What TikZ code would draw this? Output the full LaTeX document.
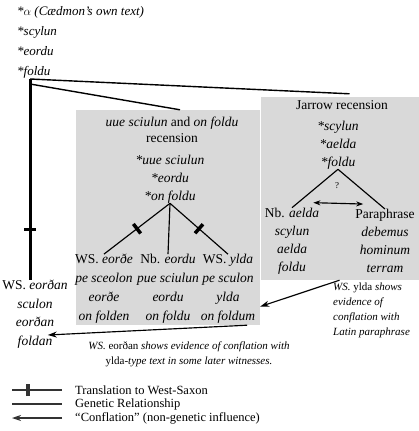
\documentclass[tikz,border=0pt]{standalone}
\usepackage{amssymb}
\usepackage{amsmath}
\usepackage{fontspec}
\setmainfont{Liberation Serif}
\usepackage{tikz}
\usetikzlibrary{arrows.meta,decorations.markings}

\begin{document}
\begin{tikzpicture}[x=1pt, y=-1pt,
			panel/.style={
				rectangle,
				fill=black!15,
				inner sep=0mm},
			txt/.style={
				align=center,
				inner sep=0mm,
				font=\fontsize{13.5}{19}\selectfont},
			note/.style={
				inner sep=0mm,
				font=\fontsize{11}{15}\selectfont\itshape},
			key/.style={
				anchor=west,
				inner sep=0mm,
				font=\fontsize{12.5}{14}\selectfont},
			gen/.style={line width=1.15pt},
			conf/.style={line width=1.15pt, -{Stealth[length=9pt,width=6pt]}},
			xlate/.style={
				postaction={decorate},
				decoration={markings,
					mark=at position #1 with {\draw[line width=3.5pt] (0,-6pt) -- (0,6pt);}}}]
			\useasboundingbox (0,0) rectangle (419,431);
			% recension panels
			\node (nbox) at (168,217.5) [panel, minimum width=184pt, minimum height=215pt] {};
			\node (jbox) at (339.5,188.5) [panel, minimum width=158pt, minimum height=183pt] {};
			% archetype
			\node (orig) at (17,42) [anchor=west, txt, align=left,
				font=\fontsize{13}{20}\selectfont\itshape] {*$\alpha$ (Cædmon’s own text)\\*scylun\\*eordu\\*foldu};
			\coordinate (root) at (30,79);
			% West-Saxon
			\node (wsl) at (35,314) [txt, font=\fontsize{13.5}{18.5}\selectfont] {WS. \textit{eorðan}\\\textit{sculon}\\\textit{eorðan}\\\textit{foldan}};
			\draw[line width=3pt, xlate=.75] (root) -- (root |- wsl.north);
			\draw[line width=1.4pt] (root) -- ([xshift=10pt,yshift=3pt]jbox.north);
			\draw[line width=1.4pt] ([yshift=-5pt]root) -- ([xshift=12pt]nbox.north);
			% uue sciulun recension
			\node (ntitle) at (172,130) [txt, font=\fontsize{13.5}{16}\selectfont] {\textit{uue sciulun} and \textit{on foldu}\\recension};
			\node (nstar) at (170,179) [txt, font=\fontsize{13.5}{18}\selectfont\itshape] {*uue sciulun\\*eordu\\*on foldu};
			\node (nws) at (104,289) [txt] {WS. \textit{eorðe}\\\textit{pe sceolon}\\\textit{eorðe}\\\textit{on folden}};
			\node (nnb) at (168,289) [txt] {Nb. \textit{eordu}\\\textit{pue sciulun}\\\textit{eordu}\\\textit{on foldu}};
			\node (nwsy) at (228,289) [txt] {WS. \textit{ylda}\\\textit{pe sculon}\\\textit{ylda}\\\textit{on foldum}};
			\foreach \c in {nws, nwsy}
				\draw[gen, xlate=.5] (nstar.south) -- (\c.north);
			\draw[gen] (nstar.south) -- (nnb.north);
			% Jarrow recension
			\node (jtitle) at (342,105) [txt] {Jarrow recension};
			\node (jstar) at (338,145) [txt, font=\fontsize{13.5}{18}\selectfont\itshape] {*scylun\\*aelda\\*foldu};
			\node (jnb) at (292,241) [txt, font=\fontsize{13.5}{18}\selectfont] {Nb. \textit{aelda}\\\textit{scylun}\\\textit{aelda}\\\textit{foldu}};
			\node (jpar) at (385,241) [txt, font=\fontsize{13.5}{18}\selectfont] {Paraphrase\\\textit{debemus}\\\textit{hominum}\\\textit{terram}};
			\foreach \c in {jnb, jpar}
				\draw[gen] (jstar.south) -- (\c.north);
			\node (q) at (337,186) [font=\small] {?};
			\draw[gen, {Stealth[length=7pt,width=5pt]}-{Stealth[length=7pt,width=5pt]}]
				([shift={(-6pt,5pt)}]jnb.north east) -- ([shift={(8pt,5pt)}]jpar.north west);
			% conflation
			\draw[conf] (jbox.south) -- (nbox.-44);
			\draw[conf] ([xshift=-13pt]nbox.south east) -- ([shift={(-20pt,-21pt)}]wsl.east);
			\node (note1) at (189,354) [note, align=center] {WS. {\upshape eorðan} shows evidence of conflation with\\{\upshape ylda}-type text in some later witnesses.};
			\node (note2) at (333,310) [note, anchor=west, align=left] {WS. {\upshape ylda} shows\\evidence of\\conflation with\\Latin paraphrase};
			% key
			\node (k1) at (75,390) [key] {Translation to West-Saxon};
			\node (k2) at (75,404) [key] {Genetic Relationship};
			\node (k3) at (75,418) [key] {“Conflation” (non-genetic influence)};
			\draw[gen, black!80, xlate=.32] ([xshift=-63pt]k1.west) -- ([xshift=-13pt]k1.west);
			\draw[gen, black!80] ([xshift=-63pt]k2.west) -- ([xshift=-13pt]k2.west);
			\draw[conf, black!80] ([xshift=-13pt]k3.west) -- ([xshift=-63pt]k3.west);
\end{tikzpicture}
\end{document}
